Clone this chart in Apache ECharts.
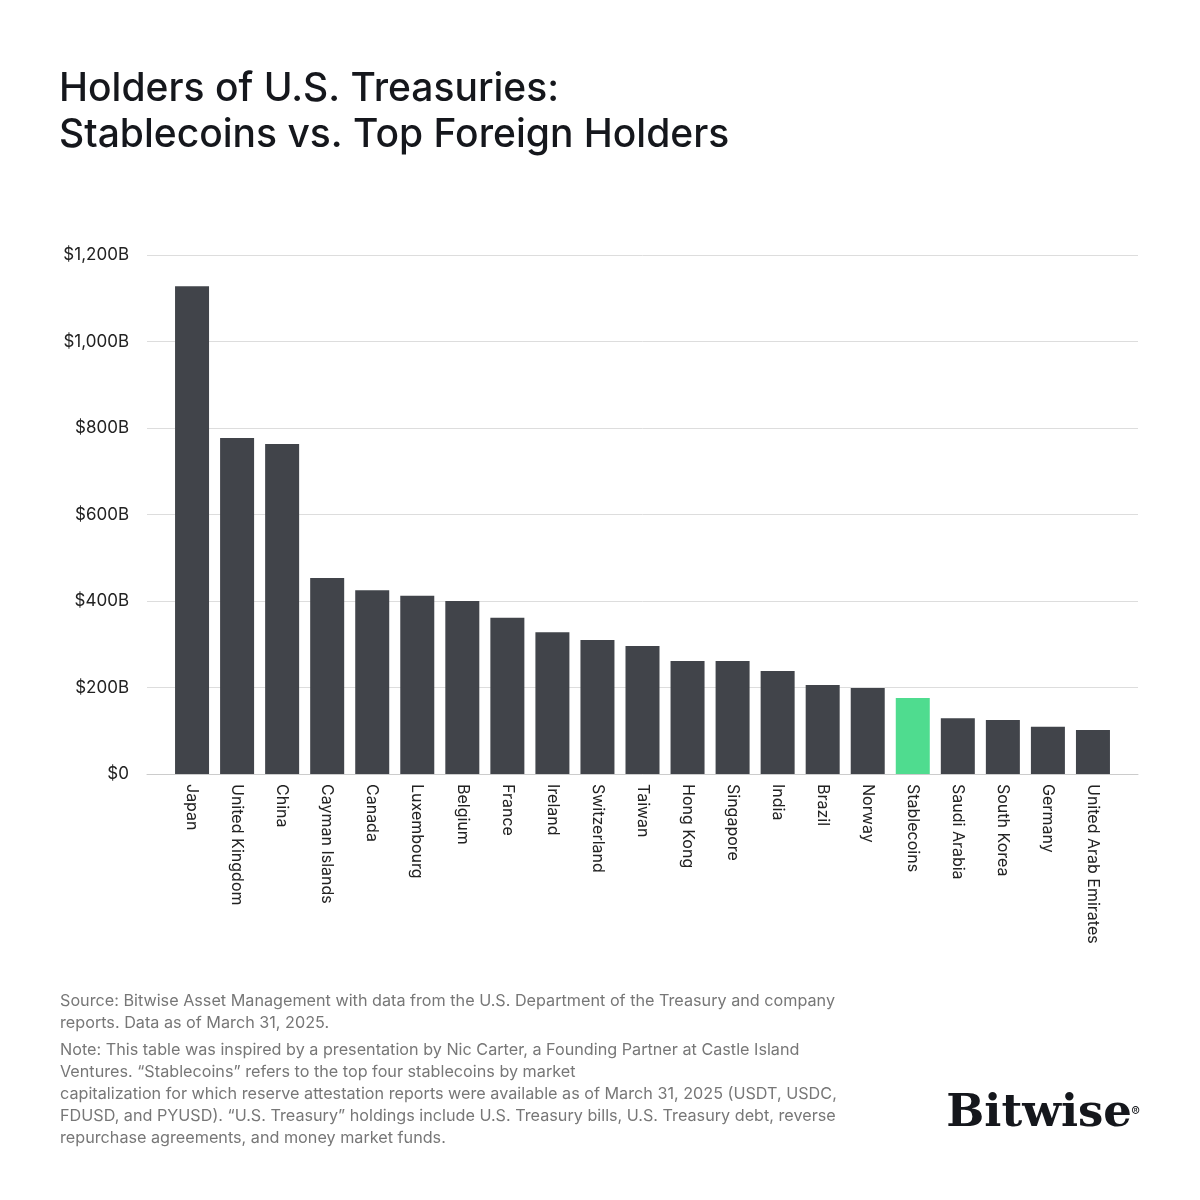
<!DOCTYPE html>
<html><head><meta charset="utf-8">
<script src="https://cdn.jsdelivr.net/npm/echarts@6/dist/echarts.min.js"></script>
<style>html,body{margin:0;background:#fff}#c{width:1200px;height:1200px}</style>
</head><body><div id="c"></div>
<script>
const countries = ['Japan','United Kingdom','China','Cayman Islands','Canada','Luxembourg','Belgium','France','Ireland','Switzerland','Taiwan','Hong Kong','Singapore','India','Brazil','Norway','Stablecoins','Saudi Arabia','South Korea','Germany','United Arab Emirates'];
const holdings = [1128,777,763,453,425,412,400,361,328,310,296,261,261,238,206,199,176,129,125,109,102];
const highlight = 'Stablecoins';

const font = 'Inter, "Noto Sans", sans-serif';
const chart = echarts.init(document.getElementById('c'));
chart.setOption({
  backgroundColor: '#fff',
  animation: false,
  textStyle: { fontFamily: font },
  graphic: [
    { type: 'text', left: 59, top: 66, style: { text: 'Holders of U.S. Treasuries:\nStablecoins vs. Top Foreign Holders', font: '500 39px ' + font, fill: '#15171c', lineHeight: 46 } },
    { type: 'text', left: 60, top: 990, style: { text: 'Source: Bitwise Asset Management with data from the U.S. Department of the Treasury and company\nreports. Data as of March 31, 2025.', font: '16.2px ' + font, fill: '#777', lineHeight: 22 } },
    { type: 'text', left: 60, top: 1039, style: { text: 'Note: This table was inspired by a presentation by Nic Carter, a Founding Partner at Castle Island\nVentures. \u201cStablecoins\u201d refers to the top four stablecoins by market\ncapitalization for which reserve attestation reports were available as of March 31, 2025 (USDT, USDC,\nFDUSD, and PYUSD). \u201cU.S. Treasury\u201d holdings include U.S. Treasury bills, U.S. Treasury debt, reverse\nrepurchase agreements, and money market funds.', font: '16.2px ' + font, fill: '#777', lineHeight: 22 } },
    { type: 'text', right: 68, top: 1092, style: { text: 'Bitwise', font: 'bold 45px "DejaVu Serif", "Liberation Serif", serif', fill: '#15171c' } },
    { type: 'text', right: 60, top: 1106, style: { text: '®', font: '13px ' + font, fill: '#15171c' } }
  ],
  grid: { left: 147, right: 62, top: 255, bottom: 426, containLabel: false },
  xAxis: {
    type: 'value', min: -1, max: 21, interval: 1,
    splitLine: { show: false },
    axisLine: { show: true, lineStyle: { color: '#ccc' } },
    axisTick: { show: false },
    axisLabel: {
      rotate: -90, color: '#222', fontSize: 16, margin: 10,
      formatter: v => countries[v] || ''
    }
  },
  yAxis: {
    type: 'value', min: 0, max: 1200, interval: 200,
    axisLine: { show: false }, axisTick: { show: false },
    splitLine: { lineStyle: { color: '#ddd' } },
    axisLabel: {
      color: '#222', fontSize: 17, margin: 18,
      formatter: v => v === 0 ? '$0' : '$' + v.toLocaleString('en-US') + 'B'
    }
  },
  series: [{
    type: 'bar', barWidth: 34,
    data: holdings.map((v, i) => ({
      value: [i, v],
      itemStyle: { color: countries[i] === highlight ? '#4fdc8f' : '#41444a' }
    }))
  }]
});
</script></body></html>
